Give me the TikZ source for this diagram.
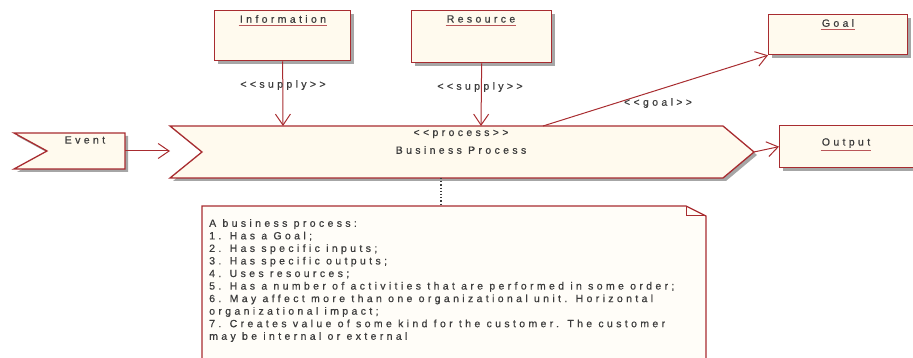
\documentclass[tikz,border=0pt]{standalone}
\usepackage{fontspec}
\setmainfont{Liberation Sans}
\newfontfamily\umlfont[LetterSpace=32,FakeBold=0.6]{Liberation Sans}
\usetikzlibrary{arrows.meta,shadows}

\definecolor{umlred}{RGB}{168,44,48}
\definecolor{umlfill}{RGB}{255,250,238}
\definecolor{notefill}{RGB}{255,253,248}
\definecolor{umltext}{RGB}{60,60,60}
\definecolor{umlshadow}{RGB}{150,150,150}

\begin{document}
\begin{tikzpicture}[x=1pt,y=-1pt,
  umlshadowed/.style={drop shadow={shadow xshift=3pt,shadow yshift=-3pt,fill=umlshadow,opacity=0.85}},
  classbox/.style={draw=umlred,line width=1.3pt,fill=umlfill,rectangle,inner sep=0pt,anchor=north west,umlshadowed},
  shapeline/.style={draw=umlred,line width=1.3pt,fill=umlfill,line join=miter},
  umltxt/.style={font=\umlfont\fontsize{10.5}{12.55}\selectfont,text=umltext,inner sep=1pt},
  uline/.style={draw=umlred!80,line width=0.9pt},
  conn/.style={draw=umlred,line width=1pt,-{Straight Barb[length=11pt,width=15pt,line width=1pt]}},
]
\useasboundingbox (0,0) rectangle (913,358);

% class boxes
\node[classbox,minimum width=136pt,minimum height=50pt] (info) at (214,10) {};
\node[classbox,minimum width=140pt,minimum height=52pt] (res) at (411,10) {};
\node[classbox,minimum width=139pt,minimum height=40pt] (goal) at (768,14) {};
\node[classbox,minimum width=140pt,minimum height=42pt] (out) at (779,125) {};

% box titles with underline
\node[umltxt] (infot) at (283,19) {Information};
\draw[uline] ([yshift=-1.5pt]infot.south west) -- ([yshift=-1.5pt]infot.south east);
\node[umltxt] (rest) at (481,19) {Resource};
\draw[uline] ([yshift=-1.5pt]rest.south west) -- ([yshift=-1.5pt]rest.south east);
\node[umltxt] (goalt) at (838,23) {Goal};
\draw[uline] ([yshift=-1.5pt]goalt.south west) -- ([yshift=-1.5pt]goalt.south east);
\node[umltxt] (outt) at (846,143) {Output};
\draw[uline] ([yshift=-1.5pt]outt.south west) -- ([yshift=-1.5pt]outt.south east);

% event (notched flag)
\path[shapeline,umlshadowed] (14,133) -- (125,133) -- (125,169) -- (14,169) -- (47,151) -- cycle;
\coordinate (evR) at (125,151);
\node[umltxt] (evt) at (85,140) {Event};

% business process (chevron)
\path[shapeline,umlshadowed] (170,126) -- (723,126) -- (754,152) -- (723,178) -- (170,178) -- (202,152) -- cycle;
\coordinate (pL) at (170,151);
\coordinate (pR) at (754,152);
\coordinate (pInfo) at (283,126);
\coordinate (pRes) at (481,126);
\coordinate (pGoal) at (543,126);
\coordinate (pBot) at (441,178);
\node[umltxt] (stereo) at (461,134) {<<process>>};
\node[umltxt] (pname) at (461,150) {Business Process};

% note with folded corner
\path[draw=umlred,line width=1.3pt,fill=notefill] (202,206) -- (686,206) -- (706,216) -- (706,362) -- (202,362) -- cycle;
\draw[umlred,line width=1pt] (686,206) -- (686,216) -- (706,216);
\coordinate (nTop) at (441,206);
\node[umltxt,anchor=north west,align=left,inner sep=0pt] (notetext) at (209,219) {%
A business process:\\
1. Has a Goal;\\
2. Has specific inputs;\\
3. Has specific outputs;\\
4. Uses resources;\\
5. Has a number of activities that are performed in some order;\\
6. May affect more than one organizational unit. Horizontal\\
organizational impact;\\
7. Creates value of some kind for the customer. The customer\\
may be internal or external};

% connectors
\draw[conn] (evR) -- (pL);
\draw[conn] (info.south) -- (pInfo);
\draw[conn] (res.south) -- (pRes);
\draw[conn] (pGoal) -- (goal.south west);
\draw[conn] (pR) -- (out.west);
\draw[umltext,line width=1.2pt,dotted] (pBot) -- (nTop);

% connector labels
\node[umltxt] (l1) at (283,85) {<<supply>>};
\node[umltxt] (l2) at (480,87) {<<supply>>};
\node[umltxt] (l3) at (658,103) {<<goal>>};
\end{tikzpicture}
\end{document}
